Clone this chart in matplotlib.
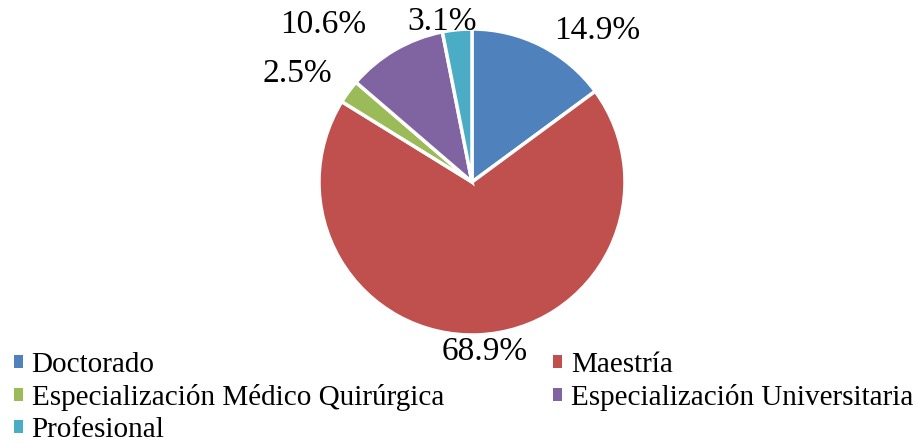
import matplotlib.pyplot as plt
from matplotlib.patches import Patch

# Datos
categorias = ["Doctorado", "Maestría", "Especialización Médico Quirúrgica",
              "Especialización Universitaria", "Profesional"]
porcentajes = [14.9, 68.9, 2.5, 10.6, 3.1]
colores = ["#4F81BD", "#C0504D", "#9BBB59", "#8064A2", "#4BACC6"]

# posiciones de las etiquetas (en radios del pastel)
pos_etiquetas = [(0.82, 0.99), (0.085, -1.11), (-1.14, 0.71), (-0.97, 1.03), (-0.196, 1.05)]

plt.rcParams['font.family'] = ['Liberation Serif', 'DejaVu Serif']

fig = plt.figure(figsize=(9.17, 4.44), dpi=100)
ax = fig.add_axes([319 / 917, 109 / 444, 306 / 917, 306 / 444])

wedges, _ = ax.pie(porcentajes, colors=colores, startangle=90, counterclock=False,
                   wedgeprops=dict(edgecolor='white', linewidth=2.5))
ax.set_aspect('equal')
ax.set_xlim(-1, 1)
ax.set_ylim(-1, 1)

for p, (x, y) in zip(porcentajes, pos_etiquetas):
    ax.text(x, y, f"{p:.1f}%", ha='center', va='center', fontsize=24, clip_on=False)

# Leyenda fila por fila
orden = [0, 2, 4, 1, 3]
handles = [Patch(facecolor=colores[i], edgecolor='none') for i in orden]
labels = [categorias[i] for i in orden]
fig.legend(handles, labels, ncol=2, loc='lower left', bbox_to_anchor=(-0.01, -0.05),
           frameon=False, fontsize=21, handlelength=0.3, handleheight=0.3,
           handletextpad=0.3, columnspacing=3.75, labelspacing=0.2, borderpad=0.3)

fig.savefig("out.png", dpi=100)
